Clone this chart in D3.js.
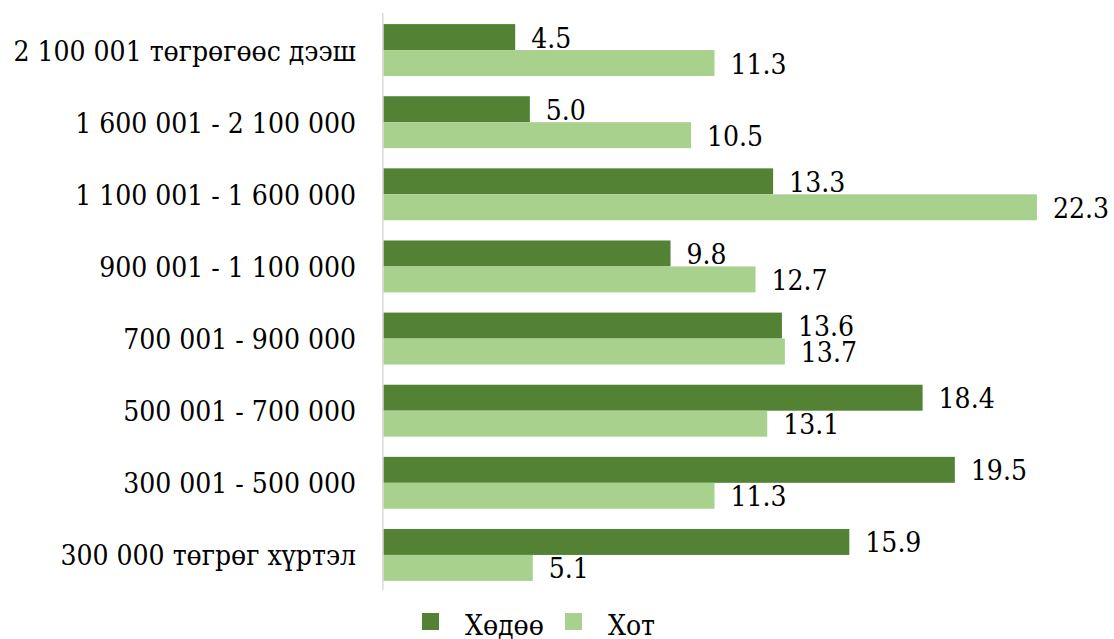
<!DOCTYPE html>
<html>
<head>
<meta charset="utf-8">
<script src="https://d3js.org/d3.v7.min.js"></script>
<style>
  body { margin: 0; background: #fff; }
</style>
</head>
<body>
<script>
var width = 1114, height = 639;
var fontFamily = '"DejaVu Serif Condensed", "DejaVu Serif", serif';

var categories = ['2 100 001 төгрөгөөс дээш', '1 600 001 - 2 100 000', '1 100 001 - 1 600 000',
                  '900 001 - 1 100 000', '700 001 - 900 000', '500 001 - 700 000',
                  '300 001 - 500 000', '300 000 төгрөг хүртэл'];
var seriesNames = ['Хөдөө', 'Хот'];
var rural = [4.5, 5.0, 13.3, 9.8, 13.6, 18.4, 19.5, 15.9];
var urban = [11.3, 10.5, 22.3, 12.7, 13.7, 13.1, 11.3, 5.1];
var colors = ['#548235', '#a9d18e'];

var rows = categories.map(function(c, i) {
    return {cat: c, values: [rural[i], urban[i]]};
});

var svg = d3.select('body').append('svg')
    .attr('width', width)
    .attr('height', height)
    .style('font-family', fontFamily)
    .style('font-stretch', 'condensed')
    .style('font-size', '28px');

var x = d3.scaleLinear().domain([0, 25]).range([383.3, 383.3 + 25 * 29.31]);

var y = d3.scaleBand().domain(categories)
    .range([14, 591])
    .paddingInner(0.28)
    .paddingOuter(0.14);

var ySub = d3.scaleBand().domain(seriesNames).range([0, y.bandwidth()]);

var groups = svg.selectAll('g.cat')
    .data(rows)
    .enter().append('g')
    .attr('class', 'cat')
    .attr('transform', function(d) { return 'translate(0,' + y(d.cat) + ')'; });

groups.selectAll('rect')
    .data(function(d) { return d.values.map(function(v, j) { return {v: v, s: seriesNames[j], j: j}; }); })
    .enter().append('rect')
    .attr('x', x(0))
    .attr('y', function(d) { return ySub(d.s); })
    .attr('width', function(d) { return x(d.v) - x(0); })
    .attr('height', ySub.bandwidth())
    .attr('fill', function(d) { return colors[d.j]; });

groups.selectAll('text.val')
    .data(function(d) { return d.values.map(function(v, j) { return {v: v, s: seriesNames[j]}; }); })
    .enter().append('text')
    .attr('class', 'val')
    .attr('x', function(d) { return x(d.v) + 16; })
    .attr('y', function(d) { return ySub(d.s) + ySub.bandwidth() / 2 + 1; })
    .attr('dominant-baseline', 'central')
    .attr('fill', '#000')
    .text(function(d) { return d3.format('.1f')(d.v); });

// category labels
svg.selectAll('text.cat-label')
    .data(categories)
    .enter().append('text')
    .attr('class', 'cat-label')
    .attr('x', 356)
    .attr('y', function(d) { return y(d) + y.bandwidth() / 2 + 1; })
    .attr('text-anchor', 'end')
    .attr('dominant-baseline', 'central')
    .attr('fill', '#000')
    .text(function(d) { return d; });

// axis line
svg.append('line')
    .attr('x1', x(0) - 0.5).attr('x2', x(0) - 0.5)
    .attr('y1', 13).attr('y2', 590)
    .attr('stroke', '#d9d9d9')
    .attr('stroke-width', 1.5);

// legend
var legendX = [422, 565];
var legend = svg.selectAll('g.legend')
    .data(seriesNames)
    .enter().append('g')
    .attr('class', 'legend')
    .attr('transform', function(d, i) { return 'translate(' + legendX[i] + ',613)'; });

legend.append('rect')
    .attr('width', 17).attr('height', 17)
    .attr('fill', function(d, i) { return colors[i]; });

legend.append('text')
    .attr('x', 43)
    .attr('y', 22)
    .attr('fill', '#000')
    .text(function(d) { return d; });
</script>
</body>
</html>
